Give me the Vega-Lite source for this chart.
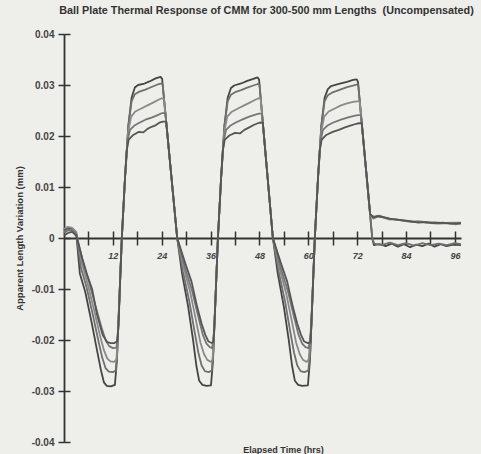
{
"$schema": "https://vega.github.io/schema/vega-lite/v6.json",
"width": 397, "height": 408,
"autosize": {"type": "none"},
"padding": {"left": 64, "top": 34, "right": 20, "bottom": 12},
"background": "#eeeeea",
"title": {"text": "Ball Plate Thermal Response of CMM for 300-500 mm Lengths \u00a0(Uncompensated)", "font": "Liberation Sans", "fontSize": 10.8, "fontWeight": "bold", "color": "#333333", "anchor": "middle", "offset": 13, "dx": 4},
"config": {"view": {"stroke": null}, "axis": {"grid": false}},
"data": {"values": [
{"s":"s1","t":0,"v":0.0015},{"s":"s1","t":1,"v":0.002},{"s":"s1","t":2,"v":0.0018},{"s":"s1","t":3,"v":0.001},{"s":"s1","t":3.9,"v":-0.007},{"s":"s1","t":5.2,"v":-0.0105},{"s":"s1","t":6.9,"v":-0.017},{"s":"s1","t":8.1,"v":-0.022},{"s":"s1","t":9.1,"v":-0.026},{"s":"s1","t":9.8,"v":-0.0283},{"s":"s1","t":10.5,"v":-0.029},{"s":"s1","t":11.5,"v":-0.0291},{"s":"s1","t":12.5,"v":-0.0288},{"s":"s1","t":13.0,"v":-0.024},{"s":"s1","t":13.6,"v":-0.012},{"s":"s1","t":14.2,"v":0},{"s":"s1","t":15.0,"v":0.012},{"s":"s1","t":15.8,"v":0.022},{"s":"s1","t":16.6,"v":0.0275},{"s":"s1","t":17.4,"v":0.0295},{"s":"s1","t":18.2,"v":0.030},{"s":"s1","t":19.5,"v":0.0302},{"s":"s1","t":21,"v":0.0307},{"s":"s1","t":22.5,"v":0.0313},{"s":"s1","t":23.7,"v":0.0316},{"s":"s1","t":24.1,"v":0.0312},{"s":"s1","t":27.8,"v":0},{"s":"s1","t":29,"v":-0.007},{"s":"s1","t":30.5,"v":-0.0135},{"s":"s1","t":31.7,"v":-0.02},{"s":"s1","t":32.5,"v":-0.025},{"s":"s1","t":33.2,"v":-0.028},{"s":"s1","t":34,"v":-0.0288},{"s":"s1","t":35,"v":-0.029},{"s":"s1","t":36.1,"v":-0.0289},{"s":"s1","t":36.6,"v":-0.024},{"s":"s1","t":37.2,"v":-0.012},{"s":"s1","t":37.8,"v":0},{"s":"s1","t":38.6,"v":0.012},{"s":"s1","t":39.4,"v":0.022},{"s":"s1","t":40.2,"v":0.0275},{"s":"s1","t":41.0,"v":0.0294},{"s":"s1","t":41.8,"v":0.0299},{"s":"s1","t":43.5,"v":0.0303},{"s":"s1","t":45,"v":0.0308},{"s":"s1","t":46.5,"v":0.0312},{"s":"s1","t":47.5,"v":0.0315},{"s":"s1","t":47.9,"v":0.0311},{"s":"s1","t":51.3,"v":0},{"s":"s1","t":52.5,"v":-0.007},{"s":"s1","t":54,"v":-0.0135},{"s":"s1","t":55.2,"v":-0.02},{"s":"s1","t":56,"v":-0.025},{"s":"s1","t":56.7,"v":-0.028},{"s":"s1","t":57.5,"v":-0.0288},{"s":"s1","t":58.5,"v":-0.029},{"s":"s1","t":59.9,"v":-0.0289},{"s":"s1","t":60.4,"v":-0.024},{"s":"s1","t":61.0,"v":-0.012},{"s":"s1","t":61.6,"v":0},{"s":"s1","t":62.4,"v":0.012},{"s":"s1","t":63.2,"v":0.022},{"s":"s1","t":64.0,"v":0.0275},{"s":"s1","t":64.8,"v":0.0292},{"s":"s1","t":65.6,"v":0.0298},{"s":"s1","t":67.5,"v":0.0302},{"s":"s1","t":69.5,"v":0.0306},{"s":"s1","t":71,"v":0.031},{"s":"s1","t":71.9,"v":0.0311},{"s":"s1","t":72.2,"v":0.0306},{"s":"s1","t":75.7,"v":0},{"s":"s1","t":76.1,"v":-0.0014},{"s":"s1","t":77.5,"v":-0.0012},{"s":"s1","t":79,"v":-0.0016},{"s":"s1","t":80.5,"v":-0.0011},{"s":"s1","t":82,"v":-0.0017},{"s":"s1","t":83.5,"v":-0.0012},{"s":"s1","t":85,"v":-0.0018},{"s":"s1","t":86.5,"v":-0.0013},{"s":"s1","t":88,"v":-0.0016},{"s":"s1","t":89.5,"v":-0.0011},{"s":"s1","t":91,"v":-0.0017},{"s":"s1","t":92.5,"v":-0.0012},{"s":"s1","t":94,"v":-0.0016},{"s":"s1","t":95.5,"v":-0.0013},{"s":"s1","t":97.5,"v":-0.0014},
{"s":"s2","t":0,"v":0.001},{"s":"s2","t":1,"v":0.0015},{"s":"s2","t":2,"v":0.0015},{"s":"s2","t":3,"v":0.0008},{"s":"s2","t":4.2,"v":-0.006},{"s":"s2","t":5.5,"v":-0.0095},{"s":"s2","t":7.2,"v":-0.0155},{"s":"s2","t":8.4,"v":-0.02},{"s":"s2","t":9.4,"v":-0.0235},{"s":"s2","t":10.2,"v":-0.0255},{"s":"s2","t":11,"v":-0.0262},{"s":"s2","t":12,"v":-0.0263},{"s":"s2","t":12.7,"v":-0.026},{"s":"s2","t":13.1,"v":-0.022},{"s":"s2","t":13.6,"v":-0.012},{"s":"s2","t":14.2,"v":0},{"s":"s2","t":15.0,"v":0.012},{"s":"s2","t":15.8,"v":0.022},{"s":"s2","t":16.6,"v":0.0268},{"s":"s2","t":17.4,"v":0.0282},{"s":"s2","t":18.5,"v":0.0287},{"s":"s2","t":20,"v":0.0291},{"s":"s2","t":21.5,"v":0.0296},{"s":"s2","t":23,"v":0.0301},{"s":"s2","t":24.1,"v":0.0303},{"s":"s2","t":24.24,"v":0.030},{"s":"s2","t":27.8,"v":0},{"s":"s2","t":29.2,"v":-0.0065},{"s":"s2","t":30.8,"v":-0.0125},{"s":"s2","t":32.1,"v":-0.0185},{"s":"s2","t":33,"v":-0.0225},{"s":"s2","t":33.8,"v":-0.025},{"s":"s2","t":34.6,"v":-0.0261},{"s":"s2","t":35.5,"v":-0.0263},{"s":"s2","t":36.3,"v":-0.026},{"s":"s2","t":36.7,"v":-0.022},{"s":"s2","t":37.2,"v":-0.012},{"s":"s2","t":37.8,"v":0},{"s":"s2","t":38.6,"v":0.012},{"s":"s2","t":39.4,"v":0.022},{"s":"s2","t":40.2,"v":0.0268},{"s":"s2","t":41,"v":0.0281},{"s":"s2","t":42,"v":0.0286},{"s":"s2","t":43.5,"v":0.029},{"s":"s2","t":45,"v":0.0295},{"s":"s2","t":46.5,"v":0.0299},{"s":"s2","t":47.6,"v":0.0302},{"s":"s2","t":48.02,"v":0.030},{"s":"s2","t":51.3,"v":0},{"s":"s2","t":52.7,"v":-0.0065},{"s":"s2","t":54.3,"v":-0.0125},{"s":"s2","t":55.6,"v":-0.0185},{"s":"s2","t":56.5,"v":-0.0225},{"s":"s2","t":57.3,"v":-0.025},{"s":"s2","t":58.1,"v":-0.0261},{"s":"s2","t":59,"v":-0.0263},{"s":"s2","t":60.0,"v":-0.026},{"s":"s2","t":60.5,"v":-0.022},{"s":"s2","t":61.0,"v":-0.012},{"s":"s2","t":61.6,"v":0},{"s":"s2","t":62.4,"v":0.012},{"s":"s2","t":63.2,"v":0.022},{"s":"s2","t":64,"v":0.0268},{"s":"s2","t":64.8,"v":0.028},{"s":"s2","t":65.8,"v":0.0285},{"s":"s2","t":67.5,"v":0.029},{"s":"s2","t":69.5,"v":0.0296},{"s":"s2","t":71,"v":0.0299},{"s":"s2","t":72,"v":0.0301},{"s":"s2","t":72.28,"v":0.0299},{"s":"s2","t":75.7,"v":0},{"s":"s2","t":76.2,"v":-0.0011},{"s":"s2","t":78,"v":-0.0014},{"s":"s2","t":80,"v":-0.0009},{"s":"s2","t":82,"v":-0.0014},{"s":"s2","t":84,"v":-0.001},{"s":"s2","t":86,"v":-0.0015},{"s":"s2","t":88,"v":-0.001},{"s":"s2","t":90,"v":-0.0014},{"s":"s2","t":92,"v":-0.0011},{"s":"s2","t":94,"v":-0.0014},{"s":"s2","t":96,"v":-0.001},{"s":"s2","t":97.5,"v":-0.0012},
{"s":"s3","t":0,"v":0.0018},{"s":"s3","t":1,"v":0.0022},{"s":"s3","t":2,"v":0.002},{"s":"s3","t":3,"v":0.0012},{"s":"s3","t":4.4,"v":-0.005},{"s":"s3","t":5.8,"v":-0.009},{"s":"s3","t":7.5,"v":-0.0145},{"s":"s3","t":8.8,"v":-0.019},{"s":"s3","t":9.8,"v":-0.022},{"s":"s3","t":10.6,"v":-0.0236},{"s":"s3","t":11.4,"v":-0.0242},{"s":"s3","t":12.3,"v":-0.0243},{"s":"s3","t":12.9,"v":-0.0238},{"s":"s3","t":13.2,"v":-0.019},{"s":"s3","t":13.6,"v":-0.012},{"s":"s3","t":14.2,"v":0},{"s":"s3","t":15.0,"v":0.012},{"s":"s3","t":15.8,"v":0.021},{"s":"s3","t":16.5,"v":0.0238},{"s":"s3","t":17.5,"v":0.0248},{"s":"s3","t":19,"v":0.0254},{"s":"s3","t":20.5,"v":0.026},{"s":"s3","t":22,"v":0.0266},{"s":"s3","t":23.2,"v":0.0271},{"s":"s3","t":24.0,"v":0.0274},{"s":"s3","t":24.57,"v":0.0272},{"s":"s3","t":27.8,"v":0},{"s":"s3","t":29.4,"v":-0.0058},{"s":"s3","t":31.1,"v":-0.011},{"s":"s3","t":32.5,"v":-0.0165},{"s":"s3","t":33.5,"v":-0.0205},{"s":"s3","t":34.4,"v":-0.0228},{"s":"s3","t":35.2,"v":-0.0239},{"s":"s3","t":36.1,"v":-0.0243},{"s":"s3","t":36.5,"v":-0.0238},{"s":"s3","t":36.8,"v":-0.019},{"s":"s3","t":37.2,"v":-0.012},{"s":"s3","t":37.8,"v":0},{"s":"s3","t":38.6,"v":0.012},{"s":"s3","t":39.4,"v":0.021},{"s":"s3","t":40.1,"v":0.0238},{"s":"s3","t":41.1,"v":0.0247},{"s":"s3","t":42.5,"v":0.0253},{"s":"s3","t":44,"v":0.0259},{"s":"s3","t":45.5,"v":0.0265},{"s":"s3","t":47,"v":0.0271},{"s":"s3","t":47.8,"v":0.0274},{"s":"s3","t":48.3,"v":0.0274},{"s":"s3","t":51.3,"v":0},{"s":"s3","t":52.9,"v":-0.0058},{"s":"s3","t":54.6,"v":-0.011},{"s":"s3","t":56,"v":-0.0165},{"s":"s3","t":57,"v":-0.0205},{"s":"s3","t":57.9,"v":-0.0228},{"s":"s3","t":58.7,"v":-0.0239},{"s":"s3","t":59.6,"v":-0.0243},{"s":"s3","t":60.1,"v":-0.0238},{"s":"s3","t":60.6,"v":-0.018},{"s":"s3","t":61,"v":-0.012},{"s":"s3","t":61.6,"v":0},{"s":"s3","t":62.4,"v":0.012},{"s":"s3","t":63.2,"v":0.021},{"s":"s3","t":63.9,"v":0.0238},{"s":"s3","t":65,"v":0.0248},{"s":"s3","t":66.5,"v":0.0254},{"s":"s3","t":68,"v":0.026},{"s":"s3","t":69.5,"v":0.0264},{"s":"s3","t":71,"v":0.0267},{"s":"s3","t":72,"v":0.0268},{"s":"s3","t":72.63,"v":0.0268},{"s":"s3","t":75.2,"v":0.0045},{"s":"s3","t":76,"v":0.0038},{"s":"s3","t":77,"v":0.0042},{"s":"s3","t":78.5,"v":0.004},{"s":"s3","t":80,"v":0.0036},{"s":"s3","t":81.5,"v":0.0037},{"s":"s3","t":83,"v":0.0034},{"s":"s3","t":85,"v":0.0032},{"s":"s3","t":87,"v":0.0033},{"s":"s3","t":89,"v":0.003},{"s":"s3","t":91,"v":0.0031},{"s":"s3","t":93,"v":0.0029},{"s":"s3","t":95,"v":0.003},{"s":"s3","t":97.5,"v":0.003},
{"s":"s4","t":0,"v":0.0012},{"s":"s4","t":1,"v":0.0017},{"s":"s4","t":2,"v":0.0016},{"s":"s4","t":3,"v":0.0008},{"s":"s4","t":4.6,"v":-0.0045},{"s":"s4","t":6.1,"v":-0.0085},{"s":"s4","t":7.8,"v":-0.0135},{"s":"s4","t":9.2,"v":-0.0175},{"s":"s4","t":10.3,"v":-0.0202},{"s":"s4","t":11.1,"v":-0.0212},{"s":"s4","t":12,"v":-0.0216},{"s":"s4","t":12.9,"v":-0.0215},{"s":"s4","t":13.3,"v":-0.018},{"s":"s4","t":13.7,"v":-0.01},{"s":"s4","t":14.2,"v":0},{"s":"s4","t":15.0,"v":0.012},{"s":"s4","t":15.6,"v":0.019},{"s":"s4","t":16.2,"v":0.0212},{"s":"s4","t":17.2,"v":0.022},{"s":"s4","t":18.5,"v":0.0226},{"s":"s4","t":20,"v":0.0232},{"s":"s4","t":21.5,"v":0.0236},{"s":"s4","t":23,"v":0.0241},{"s":"s4","t":24.1,"v":0.0245},{"s":"s4","t":24.9,"v":0.0245},{"s":"s4","t":27.8,"v":0},{"s":"s4","t":29.6,"v":-0.0055},{"s":"s4","t":31.5,"v":-0.0105},{"s":"s4","t":33,"v":-0.0155},{"s":"s4","t":34.1,"v":-0.019},{"s":"s4","t":35,"v":-0.0207},{"s":"s4","t":35.8,"v":-0.0214},{"s":"s4","t":36.4,"v":-0.0216},{"s":"s4","t":36.9,"v":-0.018},{"s":"s4","t":37.3,"v":-0.01},{"s":"s4","t":37.8,"v":0},{"s":"s4","t":38.6,"v":0.012},{"s":"s4","t":39.2,"v":0.019},{"s":"s4","t":39.8,"v":0.0212},{"s":"s4","t":40.8,"v":0.022},{"s":"s4","t":42.3,"v":0.0227},{"s":"s4","t":44,"v":0.0233},{"s":"s4","t":45.5,"v":0.0238},{"s":"s4","t":47,"v":0.0242},{"s":"s4","t":47.9,"v":0.0244},{"s":"s4","t":48.63,"v":0.0244},{"s":"s4","t":51.3,"v":0},{"s":"s4","t":53.1,"v":-0.0055},{"s":"s4","t":55,"v":-0.0105},{"s":"s4","t":56.5,"v":-0.0155},{"s":"s4","t":57.6,"v":-0.019},{"s":"s4","t":58.5,"v":-0.0207},{"s":"s4","t":59.3,"v":-0.0214},{"s":"s4","t":60.1,"v":-0.0216},{"s":"s4","t":60.7,"v":-0.018},{"s":"s4","t":61.1,"v":-0.01},{"s":"s4","t":61.6,"v":0},{"s":"s4","t":62.4,"v":0.012},{"s":"s4","t":63,"v":0.019},{"s":"s4","t":63.6,"v":0.0212},{"s":"s4","t":64.6,"v":0.022},{"s":"s4","t":66,"v":0.0226},{"s":"s4","t":68,"v":0.0232},{"s":"s4","t":70,"v":0.0237},{"s":"s4","t":71.5,"v":0.024},{"s":"s4","t":72.3,"v":0.0241},{"s":"s4","t":72.94,"v":0.0241},{"s":"s4","t":75.2,"v":0.0046},{"s":"s4","t":76,"v":0.0042},{"s":"s4","t":77.5,"v":0.0044},{"s":"s4","t":79,"v":0.0039},{"s":"s4","t":80.5,"v":0.0037},{"s":"s4","t":82,"v":0.0036},{"s":"s4","t":84,"v":0.0033},{"s":"s4","t":86,"v":0.0031},{"s":"s4","t":88,"v":0.0032},{"s":"s4","t":90,"v":0.0029},{"s":"s4","t":92,"v":0.0028},{"s":"s4","t":94,"v":0.0029},{"s":"s4","t":96,"v":0.0027},{"s":"s4","t":97.5,"v":0.0028},
{"s":"s5","t":0,"v":0.0005},{"s":"s5","t":1,"v":0.001},{"s":"s5","t":2,"v":0.0012},{"s":"s5","t":3,"v":0.0005},{"s":"s5","t":4.5,"v":-0.004},{"s":"s5","t":5.6,"v":-0.007},{"s":"s5","t":6.9,"v":-0.01},{"s":"s5","t":8.1,"v":-0.015},{"s":"s5","t":9.5,"v":-0.019},{"s":"s5","t":10.6,"v":-0.0204},{"s":"s5","t":11.5,"v":-0.0206},{"s":"s5","t":12.4,"v":-0.0206},{"s":"s5","t":13.1,"v":-0.0202},{"s":"s5","t":13.4,"v":-0.017},{"s":"s5","t":13.8,"v":-0.008},{"s":"s5","t":14.2,"v":0},{"s":"s5","t":15,"v":0.012},{"s":"s5","t":15.4,"v":0.0172},{"s":"s5","t":15.9,"v":0.0193},{"s":"s5","t":17,"v":0.0202},{"s":"s5","t":18.3,"v":0.0208},{"s":"s5","t":19.5,"v":0.0207},{"s":"s5","t":20.5,"v":0.0214},{"s":"s5","t":21.5,"v":0.0218},{"s":"s5","t":22.5,"v":0.0221},{"s":"s5","t":23.4,"v":0.0226},{"s":"s5","t":24.3,"v":0.0228},{"s":"s5","t":25.1,"v":0.0228},{"s":"s5","t":27.8,"v":0},{"s":"s5","t":29.8,"v":-0.005},{"s":"s5","t":31.3,"v":-0.0085},{"s":"s5","t":32.7,"v":-0.0135},{"s":"s5","t":33.8,"v":-0.0168},{"s":"s5","t":34.7,"v":-0.019},{"s":"s5","t":35.5,"v":-0.0203},{"s":"s5","t":36.3,"v":-0.0206},{"s":"s5","t":36.7,"v":-0.0204},{"s":"s5","t":37.0,"v":-0.016},{"s":"s5","t":37.8,"v":0},{"s":"s5","t":38.6,"v":0.012},{"s":"s5","t":39.0,"v":0.0172},{"s":"s5","t":39.5,"v":0.0193},{"s":"s5","t":40.6,"v":0.0201},{"s":"s5","t":42,"v":0.0206},{"s":"s5","t":43.2,"v":0.0205},{"s":"s5","t":44.3,"v":0.0212},{"s":"s5","t":45.5,"v":0.0217},{"s":"s5","t":46.7,"v":0.0222},{"s":"s5","t":47.9,"v":0.0226},{"s":"s5","t":48.83,"v":0.0226},{"s":"s5","t":51.3,"v":0},{"s":"s5","t":53.3,"v":-0.005},{"s":"s5","t":54.8,"v":-0.0085},{"s":"s5","t":56.2,"v":-0.0135},{"s":"s5","t":57.3,"v":-0.0168},{"s":"s5","t":58.2,"v":-0.019},{"s":"s5","t":59,"v":-0.0203},{"s":"s5","t":59.9,"v":-0.0206},{"s":"s5","t":60.55,"v":-0.0205},{"s":"s5","t":60.8,"v":-0.016},{"s":"s5","t":61.6,"v":0},{"s":"s5","t":62.4,"v":0.012},{"s":"s5","t":62.8,"v":0.0172},{"s":"s5","t":63.3,"v":0.0193},{"s":"s5","t":64.4,"v":0.0202},{"s":"s5","t":66,"v":0.0208},{"s":"s5","t":67.5,"v":0.0212},{"s":"s5","t":69,"v":0.0217},{"s":"s5","t":70.5,"v":0.0221},{"s":"s5","t":71.8,"v":0.0224},{"s":"s5","t":72.4,"v":0.0225},{"s":"s5","t":73.13,"v":0.0225},{"s":"s5","t":75.2,"v":0.0047},{"s":"s5","t":76,"v":0.004},{"s":"s5","t":77,"v":0.0043},{"s":"s5","t":78.5,"v":0.0041},{"s":"s5","t":80,"v":0.0038},{"s":"s5","t":81.5,"v":0.0036},{"s":"s5","t":83,"v":0.0035},{"s":"s5","t":85,"v":0.0033},{"s":"s5","t":87,"v":0.003},{"s":"s5","t":89,"v":0.0031},{"s":"s5","t":91,"v":0.0029},{"s":"s5","t":93,"v":0.003},{"s":"s5","t":95,"v":0.0028},{"s":"s5","t":97.5,"v":0.0029}
]},
"layer": [
{"mark": {"type": "line", "strokeWidth": 1.8, "strokeJoin": "round"},
 "encoding": {
  "x": {"field": "t", "type": "quantitative", "scale": {"domain": [0, 97.5], "nice": false, "zero": false},
    "axis": {"orient": "bottom", "offset": -204, "values": [6,12,18,24,30,36,42,48,54,60,66,72,78,84,90,96],
      "labelExpr": "datum.value % 12 == 0 ? datum.label : ''", "labelOverlap": false, "labelFlush": false,
      "tickSize": 7, "tickWidth": 1.5, "tickColor": "#333333", "domainColor": "#333333", "domainWidth": 1.8,
      "labelFont": "Liberation Sans", "labelFontStyle": "italic", "labelFontWeight": "bold", "labelFontSize": 9, "labelColor": "#444444", "labelPadding": 6,
      "title": "Elapsed Time (hrs)", "titleFont": "Liberation Sans", "titleFontSize": 9, "titleFontWeight": "bold", "titleColor": "#333333",
      "titleX": 219, "titleY": 211, "titleBaseline": "middle", "titleAlign": "center"}},
  "y": {"field": "v", "type": "quantitative", "scale": {"domain": [-0.04, 0.04], "nice": false, "zero": false},
    "axis": {"orient": "left", "values": [-0.04,-0.03,-0.02,-0.01,0,0.01,0.02,0.03,0.04],
      "labelExpr": "datum.value == 0 ? '0' : replace(format(datum.value, '.2f'), '\u2212', '-')",
      "tickSize": 6, "tickWidth": 1.5, "tickColor": "#333333", "domainColor": "#333333", "domainWidth": 1.8,
      "labelFont": "Liberation Sans", "labelFontWeight": "bold", "labelFontSize": 10, "labelColor": "#444444", "labelPadding": 4,
      "title": "Apparent Length Variation (mm)", "titleFont": "Liberation Sans", "titleFontSize": 9.5, "titleFontWeight": "bold", "titleColor": "#333333", "titlePadding": 7}},
  "color": {"field": "s", "type": "nominal", "legend": null,
    "scale": {"domain": ["s1","s2","s3","s4","s5"], "range": ["#454545","#707070","#8a8a8a","#767676","#555555"]}}
 }},
{"mark": {"type": "line", "strokeOpacity": 0},
 "encoding": {
  "x": {"field": "t", "type": "quantitative",
    "axis": {"orient": "top", "offset": -204, "values": [6,12,18,24,30,36,42,48,54,60,66,72,78,84,90,96],
      "labels": false, "domain": false, "tickSize": 7, "tickWidth": 1.5, "tickColor": "#333333", "title": null}},
  "y": {"field": "v", "type": "quantitative",
    "axis": {"orient": "right", "offset": -397, "values": [-0.04,-0.03,-0.02,-0.01,0,0.01,0.02,0.03,0.04],
      "labels": false, "domain": false, "tickSize": 6, "tickWidth": 1.5, "tickColor": "#333333", "title": null}}
 }}
],
"resolve": {"axis": {"x": "independent", "y": "independent"}}
}
